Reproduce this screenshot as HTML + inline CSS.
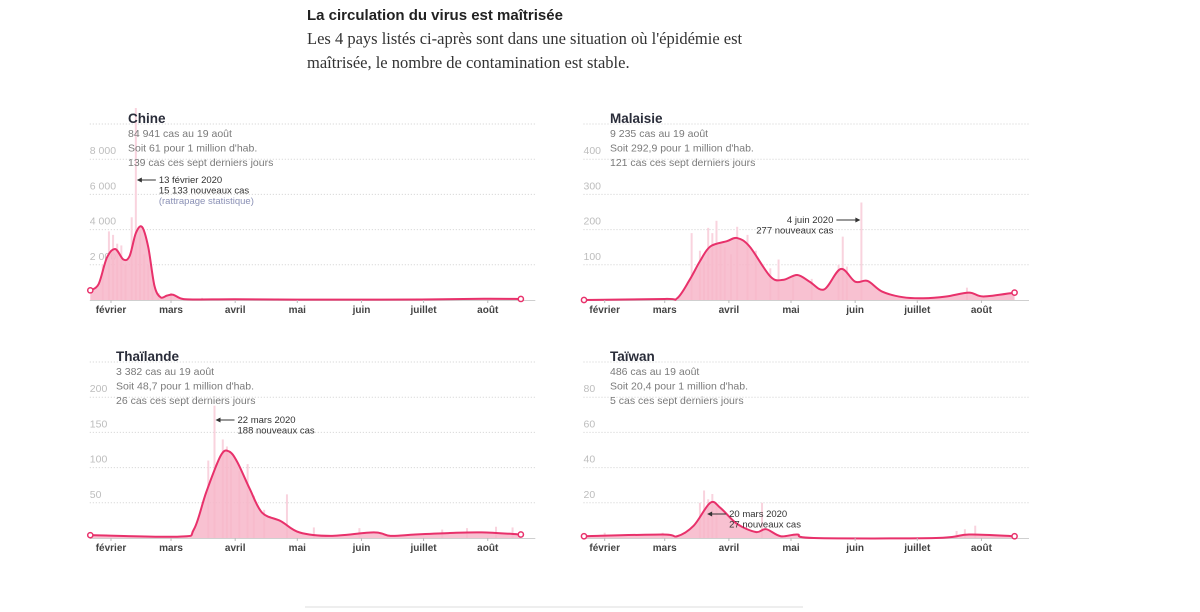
<!DOCTYPE html>
<html><head><meta charset="utf-8">
<style>
html,body{margin:0;padding:0;background:#fff;}
svg{display:block;}
.hd{font-family:"Liberation Sans",sans-serif;font-weight:bold;font-size:15px;fill:#222;}
.sub{font-family:"Liberation Serif",serif;font-size:16.5px;fill:#333;}
.ttl{font-family:"Liberation Sans",sans-serif;font-weight:bold;font-size:13.5px;fill:#2a2d3a;}
.st{font-family:"Liberation Sans",sans-serif;font-size:10.5px;fill:#7a7a7a;}
.yl{font-family:"Liberation Sans",sans-serif;font-size:10.5px;fill:#bdbdbd;}
.ml{font-family:"Liberation Sans",sans-serif;font-size:10px;font-weight:bold;fill:#444;}
.an{font-family:"Liberation Sans",sans-serif;font-size:9.5px;fill:#333;}
</style></head>
<body>
<svg id="svg" width="1200" height="612" viewBox="0 0 1200 612" xmlns="http://www.w3.org/2000/svg">
<text class="hd" x="307" y="20">La circulation du virus est maîtrisée</text>
<text class="sub" x="307" y="44">Les 4 pays listés ci-après sont dans une situation où l'épidémie est</text>
<text class="sub" x="307" y="68">maîtrisée, le nombre de contamination est stable.</text>
<line x1="305" y1="607" x2="803" y2="607" stroke="#ddd" stroke-width="1"/>
</svg>
<script>
// ---- data (day 0 = 22 janvier, 1 day ≈ 2.07px) ----
const months = ["février","mars","avril","mai","juin","juillet","août"];
const monthDays = [10,39,70,100,131,161,192];

const chineDays = [0,4,8,12,16,19,22,25,28,31,34,37,40,44,50,70,100,130,160,190,208];
const chineVals = [550,900,2400,2900,2300,2500,3800,4150,3000,800,150,250,300,80,30,40,20,20,30,70,60];
const chineBarDays = [6,9,11,13,15,17,20,22,24,26,28,30,33,39,54];
const chineBarVals = [2000,3900,3700,3200,3100,2000,4700,15133,4000,2600,2000,900,400,400,120];
const chineTicks = [2000,4000,6000,8000,10000];
const chineTickLabels = ["2 000","4 000","6 000","8 000",""];

const malDays = [0,39,45,51,56,61,69,74,80,90,96,103,109,116,124,131,137,144,154,164,175,186,193,208];
const malVals = [0,3,5,57,110,152,167,176,152,67,57,71,52,30,88,52,54,24,8,5,10,21,10,21];
const malBarDays = [52,56,58,60,62,64,66,68,71,74,79,83,90,94,101,110,123,125,127,134,185];
const malBarVals = [190,140,110,205,190,225,160,150,130,208,185,140,90,115,70,60,100,180,95,277,35];
const malTicks = [100,200,300,400,500];
const malTickLabels = ["100","200","300","400",""];

const thaDays = [0,43,50,56,63,67,71,77,83,92,101,116,137,145,157,173,189,208];
const thaVals = [4,2,12,65,117,123,108,70,36,24,8,3,8,3,5,7,8,5];
const thaBarDays = [57,60,64,66,68,72,76,79,84,95,108,130,170,182,196,204];
const thaBarVals = [110,188,140,130,110,95,105,60,40,62,15,14,12,14,16,15];
const thaTicks = [50,100,150,200,250];
const thaTickLabels = ["50","100","150","200",""];

const taiDays = [0,38,45,53,61,66,74,83,88,95,103,111,170,186,208];
const taiVals = [1,2,1,7,20,17,8,3.4,5,1,2,0,0,2,1];
const taiBarDays = [10,38,56,58,60,62,64,86,180,184,189];
const taiBarVals = [3,3,20,27,22,25,18,20,4,5,7];
const taiTicks = [20,40,60,80,100];
const taiTickLabels = ["20","40","60","80",""];

const charts = [
 {key:"chine", x0:90.3, base:300, step:2000, title:"Chine", tx:128, lines:["84 941 cas au 19 août","Soit 61 pour 1 million d'hab.","139 cas ces sept derniers jours"],
  days:chineDays, vals:chineVals, bd:chineBarDays, bv:chineBarVals, ticks:chineTicks, tl:chineTickLabels,
  ann:{day:22,val:null, side:"right", y:180, lines:["13 février 2020","15 133 nouveaux cas"], extra:"(rattrapage statistique)"}},
 {key:"malaisie", x0:584, base:300, step:100, title:"Malaisie", tx:610, lines:["9 235 cas au 19 août","Soit 292,9 pour 1 million d'hab.","121 cas ces sept derniers jours"],
  days:malDays, vals:malVals, bd:malBarDays, bv:malBarVals, ticks:malTicks, tl:malTickLabels,
  ann:{day:134, side:"left", y:220, lines:["4 juin 2020","277 nouveaux cas"]}},
 {key:"thailande", x0:90.3, base:538, step:50, title:"Thaïlande", tx:116, lines:["3 382 cas au 19 août","Soit 48,7 pour 1 million d'hab.","26 cas ces sept derniers jours"],
  days:thaDays, vals:thaVals, bd:thaBarDays, bv:thaBarVals, ticks:thaTicks, tl:thaTickLabels,
  ann:{day:60, side:"right", y:420, lines:["22 mars 2020","188 nouveaux cas"]}},
 {key:"taiwan", x0:584, base:538, step:20, title:"Taïwan", tx:610, lines:["486 cas au 19 août","Soit 20,4 pour 1 million d'hab.","5 cas ces sept derniers jours"],
  days:taiDays, vals:taiVals, bd:taiBarDays, bv:taiBarVals, ticks:taiTicks, tl:taiTickLabels,
  ann:{day:59, side:"right", y:514, lines:["20 mars 2020","27 nouveaux cas"]}}
];

const NS="http://www.w3.org/2000/svg";
const svg=document.getElementById("svg");
function mk(tag,attrs,parent){const e=document.createElementNS(NS,tag);for(const k in attrs)e.setAttribute(k,attrs[k]);(parent||svg).appendChild(e);return e;}
function smooth(pts){let d="M"+pts[0][0]+","+pts[0][1];for(let i=0;i<pts.length-1;i++){const p0=pts[i-1]||pts[i],p1=pts[i],p2=pts[i+1],p3=pts[i+2]||p2;const c1x=p1[0]+(p2[0]-p0[0])/6,c1y=p1[1]+(p2[1]-p0[1])/6,c2x=p2[0]-(p3[0]-p1[0])/6,c2y=p2[1]-(p3[1]-p1[1])/6;d+=` C${c1x},${c1y} ${c2x},${c2y} ${p2[0]},${p2[1]}`;}return d;}

charts.forEach(c=>{
  const g=mk("g",{});
  
  
  const xS=d=>c.x0+d*2.07;
  const yS=v=>Math.max(c.base-176, c.base-v/c.step*35.2);
  const xl=c.x0-0.5, xr=c.x0+445;
  // gridlines + labels
  c.ticks.forEach((t,i)=>{
    const y=c.base-t/c.step*35.2;
    const l=mk("line",{x1:xl,x2:xr,y1:y,y2:y,stroke:"#d0d0d0","stroke-dasharray":"1,2"},g);
    
    
    if(c.tl[i]){const tx=mk("text",{x:xl,y:y-5,class:"yl"},g);tx.textContent=c.tl[i];
      
      }
  });
  // bars
  c.bd.forEach((d,i)=>{
    const y=c.key==="chine"&&c.bv[i]>9000?c.base-192:yS(c.bv[i]);
    const b=mk("rect",{x:xS(d)-1,y:y,width:2,height:c.base-y,fill:"#f9d3de"},g);
    
    
  });
  // area + line
  const pts=c.days.map((d,i)=>[xS(d),yS(c.vals[i])]);
  const ld=smooth(pts);
  const area=mk("path",{d:ld+` L${pts[pts.length-1][0]},${c.base} L${pts[0][0]},${c.base} Z`,fill:"#f7b6c9","fill-opacity":"0.85"},g);
  
  
  const ax=mk("line",{x1:xl,x2:xr,y1:c.base+0.5,y2:c.base+0.5,stroke:"#cfcfcf"},g);
  
  
  const line=mk("path",{d:ld,fill:"none",stroke:"#e8316b","stroke-width":2},g);
  
  
  [pts[0],pts[pts.length-1]].forEach(p=>{
    const ci=mk("circle",{cx:p[0],cy:p[1],r:2.6,fill:"#fff",stroke:"#e8316b","stroke-width":1.5},g);
    
    
  });
  // month labels
  months.forEach((m,i)=>{
    const x=xS(monthDays[i]);
    mk("line",{x1:x,x2:x,y1:c.base,y2:c.base+3,stroke:"#bbb"},g);
    const t=mk("text",{x:x,y:c.base+13,class:"ml","text-anchor":"middle"},g);t.textContent=m;
    
    
  });
  // title & stats
  const by=c.base-182;
  const tt=mk("text",{x:c.tx,y:by+5,class:"ttl"},g);tt.textContent=c.title;
  
  
  c.lines.forEach((s,i)=>{const t=mk("text",{x:c.tx,y:by+19+i*14.5,class:"st"},g);t.textContent=s;
    
    });
  // annotation
  const a=c.ann, ax0=xS(a.day);
  if(a.side==="right"){
    mk("line",{x1:ax0+3,x2:ax0+20,y1:a.y,y2:a.y,stroke:"#333","stroke-width":1},g);
    mk("path",{d:`M${ax0+1},${a.y} l5,-2.5 v5 z`,fill:"#333"},g);
    a.lines.forEach((s,i)=>{const t=mk("text",{x:ax0+23,y:a.y+3+i*10.5,class:"an"},g);t.textContent=s;
      
      });
    if(a.extra){const t=mk("text",{x:ax0+23,y:a.y+24,class:"an",fill:"#8a90b5",style:"fill:#8a90b5"},g);t.textContent=a.extra;
      
      }
  } else {
    mk("line",{x1:ax0-25,x2:ax0-3,y1:a.y,y2:a.y,stroke:"#333","stroke-width":1},g);
    mk("path",{d:`M${ax0-1},${a.y} l-5,-2.5 v5 z`,fill:"#333"},g);
    a.lines.forEach((s,i)=>{const t=mk("text",{x:ax0-28,y:a.y+3+i*10.5,class:"an","text-anchor":"end"},g);t.textContent=s;
      
      });
  }
});
</script>
</body></html>
